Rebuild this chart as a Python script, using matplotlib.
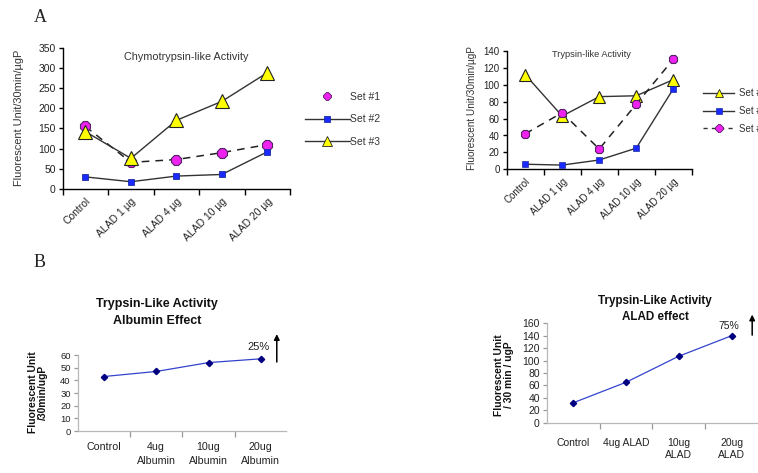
import matplotlib
matplotlib.use('Agg')
import matplotlib.pyplot as plt
from matplotlib.lines import Line2D
import numpy as np

plt.rcParams['font.family'] = ['Liberation Sans', 'DejaVu Sans']

W, H = 758, 473

# ---------------- data ----------------
categories_a = ['Control', 'ALAD 1 µg', 'ALAD 4 µg', 'ALAD 10 µg', 'ALAD 20 µg']
chymo_set1 = [155, 66, 73, 90, 110]
chymo_set2 = [30, 18, 32, 36, 92]
chymo_set3 = [142, 76, 170, 217, 288]

tryp_tri = [112, 63, 86, 87, 106]
tryp_sq = [6, 5, 11, 25, 95]
tryp_circ = [42, 67, 24, 77, 130]

legend_labels = ['Set #1', 'Set #2', 'Set #3']

categories_b1 = ['Control', '4ug\nAlbumin', '10ug\nAlbumin', '20ug\nAlbumin']
albumin_vals = [43, 47, 54, 57]
categories_b2 = ['Control', '4ug ALAD', '10ug\nALAD', '20ug\nALAD']
alad_vals = [32, 65, 107, 140]

# ---------------- figure ----------------
fig = plt.figure(figsize=(W / 100, H / 100), dpi=100)


def ax_px(x0, y0, x1, y1):
    return fig.add_axes([x0 / W, 1 - y1 / H, (x1 - x0) / W, (y1 - y0) / H])


def fx(x):
    return x / W


def fy(y):
    return 1 - y / H


def style_a(ax, n, cats, ymax, ystep, fs):
    for s in ['top', 'right']:
        ax.spines[s].set_visible(False)
    for s in ['left', 'bottom']:
        ax.spines[s].set_linewidth(1.0)
        ax.spines[s].set_color('black')
    ax.set_xlim(-0.5, n - 0.5)
    ax.set_ylim(0, ymax)
    ax.set_yticks(np.arange(0, ymax + 1, ystep))
    ax.set_xticks(np.arange(-0.5, n, 1))
    ax.set_xticklabels([])
    ax.set_xticks(np.arange(n), minor=True)
    ax.set_xticklabels(cats, minor=True, rotation=45, ha='right',
                       rotation_mode='anchor', fontsize=fs, color='#222222')
    ax.tick_params(axis='x', which='major', direction='out', length=4, width=1.0)
    ax.tick_params(axis='x', which='minor', length=0, pad=5)
    ax.tick_params(axis='y', direction='out', length=3, width=1.0,
                   labelsize=fs, labelcolor='#222222', pad=2)
    ax.patch.set_alpha(0)


# ---- Panel A left: Chymotrypsin ----
ax1 = ax_px(62.7, 47.7, 290, 189)
x5 = np.arange(len(categories_a))
ax1.plot(x5, chymo_set1, linestyle=(0, (5, 4)), color='#222222', lw=1.1,
         marker='8', ms=8.5, mfc='#ee22ee', mec='#552266', mew=0.8, zorder=3)
ax1.plot(x5, chymo_set2, '-', color='#333333', lw=1.0,
         marker='s', ms=4.5, mfc='#1a2aff', mec='#1a2aa0', mew=0.6, zorder=4)
ax1.plot(x5, chymo_set3, '-', color='#333333', lw=1.0,
         marker='^', ms=10, mfc='#ffff00', mec='#222222', mew=0.8, zorder=5)
style_a(ax1, 5, categories_a, 350, 50, 7.5)
ax1.text(0.545, 0.935, 'Chymotrypsin-like Activity', transform=ax1.transAxes,
         ha='center', va='center', fontsize=7.8, color='#333333')
fig.text(fx(19), fy(118), 'Fluorescent Unit/30min/µgP', rotation=90,
         ha='center', va='center', fontsize=7.9, color='#333333')

h1 = [Line2D([], [], linestyle='none', marker='8', ms=5.5, mfc='#ee22ee',
             mec='#552266', mew=0.6),
      Line2D([], [], linestyle='-', color='#333333', lw=1.0, marker='s', ms=5,
             mfc='#1a2aff', mec='#1a2aa0', mew=0.6),
      Line2D([], [], linestyle='-', color='#333333', lw=1.0, marker='^', ms=7,
             mfc='#ffff00', mec='#222222', mew=0.6)]
fig.legend(h1, legend_labels, loc='upper left',
           bbox_to_anchor=(fx(305), fy(92)), frameon=False, fontsize=7.5,
           handlelength=4.3, handletextpad=0.05, labelspacing=1.2,
           borderpad=0, borderaxespad=0, labelcolor='#333333')

# ---- Panel A right: Trypsin ----
ax2 = ax_px(506.7, 51, 691.7, 169.3)
ax2.plot(x5, tryp_tri, '-', color='#333333', lw=1.0,
         marker='^', ms=8, mfc='#ffff00', mec='#222222', mew=0.8, zorder=3)
ax2.plot(x5, tryp_sq, '-', color='#333333', lw=1.0,
         marker='s', ms=3.8, mfc='#1a2aff', mec='#1a2aa0', mew=0.5, zorder=4)
ax2.plot(x5, tryp_circ, linestyle=(0, (5, 4)), color='#222222', lw=1.1,
         marker='8', ms=7, mfc='#ee22ee', mec='#552266', mew=0.8, zorder=5)
style_a(ax2, 5, categories_a, 140, 20, 7.0)
ax2.text(0.46, 0.97, 'Trypsin-like Activity', transform=ax2.transAxes,
         ha='center', va='center', fontsize=6.7, color='#333333')
fig.text(fx(472), fy(108), 'Fluorescent Unit/30min/µgP', rotation=90,
         ha='center', va='center', fontsize=7.2, color='#333333')

h2 = [Line2D([], [], linestyle='-', color='#333333', lw=1.0, marker='^', ms=6,
             mfc='#ffff00', mec='#222222', mew=0.6),
      Line2D([], [], linestyle='-', color='#333333', lw=1.0, marker='s', ms=4,
             mfc='#1a2aff', mec='#1a2aa0', mew=0.5),
      Line2D([], [], linestyle=(0, (3, 3)), color='#333333', lw=1.0, marker='8',
             ms=5.5, mfc='#ee22ee', mec='#552266', mew=0.6)]
fig.legend(h2, legend_labels, loc='upper left',
           bbox_to_anchor=(fx(703), fy(88.5)), frameon=False, fontsize=7.0,
           handlelength=3.2, handletextpad=0.5, labelspacing=0.78,
           borderpad=0, borderaxespad=0, labelcolor='#333333')

# ---- Panel labels ----
fig.text(fx(40), fy(17), 'A', fontsize=13, family=['Liberation Serif', 'DejaVu Serif'],
         ha='center', va='center', color='#222222')
fig.text(fx(40), fy(262), 'B', fontsize=13, family=['Liberation Serif', 'DejaVu Serif'],
         ha='center', va='center', color='#222222')


def style_b(ax, n, cats, ymax, ystep, yfs, xfs, xpad, xls):
    for s in ['top', 'right']:
        ax.spines[s].set_visible(False)
    for s in ['left', 'bottom']:
        ax.spines[s].set_linewidth(0.9)
        ax.spines[s].set_color('#b8b8b8')
    ax.spines['bottom'].set_linestyle((0, (1.5, 1)))
    ax.set_xlim(-0.5, n - 0.5)
    ax.set_ylim(0, ymax)
    ax.set_yticks(np.arange(0, ymax + 1, ystep))
    ax.set_xticks(np.arange(0.5, n - 1, 1))
    ax.set_xticklabels([])
    ax.set_xticks(np.arange(n), minor=True)
    ax.set_xticklabels(cats, minor=True, fontsize=xfs, color='#222222',
                       linespacing=xls)
    ax.tick_params(axis='x', which='major', direction='out', length=4,
                   width=0.9, color='#999999')
    ax.tick_params(axis='x', which='minor', length=0, pad=xpad)
    ax.tick_params(axis='y', direction='out', length=3, width=0.9,
                   color='#999999', labelsize=yfs, labelcolor='#222222', pad=2)
    ax.patch.set_alpha(0)


# ---- Panel B left: Albumin ----
ax3 = ax_px(77.7, 355, 287, 431)
x4 = np.arange(len(categories_b1))
ax3.plot(x4, albumin_vals, '-', color='#3344cc', lw=0.9,
         marker='D', ms=3.2, mfc='#000080', mec='#000080', zorder=3)
style_b(ax3, 4, categories_b1, 60, 10, 6.8, 7.7, 8, 1.45)
fig.text(fx(157), fy(312.5), 'Trypsin-Like Activity\nAlbumin Effect', ha='center',
         va='center', fontsize=9, fontweight='bold', color='#111111',
         linespacing=1.55)
fig.text(fx(38), fy(392), 'Fluorescent Unit\n/30min/ugP', rotation=90,
         ha='center', va='center', fontsize=7.4, fontweight='bold',
         color='#111111', linespacing=0.95)
ax3.text(2.95, 66.3, '25%', ha='center', va='center', fontsize=8,
         color='#222222', clip_on=False)
ax3.annotate('', xy=(3.305, 76.5), xytext=(3.305, 54.5),
             xycoords='data', textcoords='data', annotation_clip=False,
             arrowprops=dict(arrowstyle='-|>', color='black', lw=1.1,
                             mutation_scale=8, shrinkA=0, shrinkB=0))

# ---- Panel B right: ALAD ----
ax4 = ax_px(546.7, 323.3, 758, 422.7)
ax4.plot(x4, alad_vals, '-', color='#3344cc', lw=0.9,
         marker='D', ms=3.2, mfc='#000080', mec='#000080', zorder=3)
style_b(ax4, 4, categories_b2, 160, 20, 7.5, 7.5, 11, 1.2)
fig.text(fx(655), fy(309), 'Trypsin-Like Activity\nALAD effect', ha='center',
         va='center', fontsize=8.4, fontweight='bold', color='#111111',
         linespacing=1.45)
fig.text(fx(504), fy(375), 'Fluorescent Unit\n/ 30 min / ugP', rotation=90,
         ha='center', va='center', fontsize=7.4, fontweight='bold',
         color='#111111', linespacing=0.95)
ax4.text(2.94, 156, '75%', ha='center', va='center', fontsize=7.5,
         color='#222222', clip_on=False)
ax4.annotate('', xy=(3.39, 174), xytext=(3.39, 141),
             xycoords='data', textcoords='data', annotation_clip=False,
             arrowprops=dict(arrowstyle='-|>', color='black', lw=1.1,
                             mutation_scale=8, shrinkA=0, shrinkB=0))

fig.savefig('out.png', dpi=100)
